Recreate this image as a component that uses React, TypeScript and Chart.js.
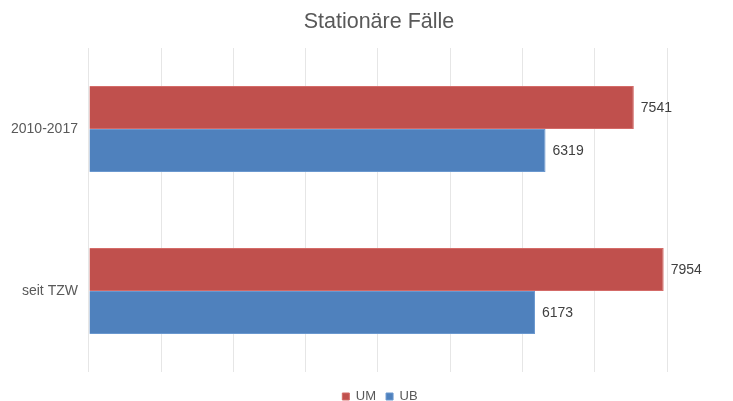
import React, { useEffect, useRef } from "react";
import { Chart, registerables } from "chart.js";

Chart.register(...registerables);

const categories = ["2010-2017", "seit TZW"];
const umValues = [7541, 7954];
const ubValues = [6319, 6173];
const seriesNames = ["UM", "UB"];
const titleText = "Stationäre Fälle";

const FONT = "'Liberation Sans', Arial, sans-serif";

const valueLabels = {
  id: "valueLabels",
  afterDatasetsDraw(chart: any) {
    const ctx = chart.ctx;
    ctx.save();
    ctx.font = `14px ${FONT}`;
    ctx.fillStyle = "#404040";
    ctx.textAlign = "left";
    ctx.textBaseline = "middle";
    chart.data.datasets.forEach((ds: any, i: number) => {
      const meta = chart.getDatasetMeta(i);
      meta.data.forEach((bar: any, j: number) => {
        ctx.fillText(String(ds.data[j]), bar.x + 7, bar.y + 1);
      });
    });
    ctx.restore();
  },
};

const centeredTitle = {
  id: "centeredTitle",
  afterDraw(chart: any) {
    const ctx = chart.ctx;
    const area = chart.chartArea;
    ctx.save();
    ctx.font = `21.5px ${FONT}`;
    ctx.fillStyle = "#595959";
    ctx.textAlign = "center";
    ctx.textBaseline = "middle";
    ctx.fillText(titleText, (area.left + area.right) / 2 + 1, 22);
    ctx.restore();
  },
};

const legendShift = {
  id: "legendShift",
  afterLayout(chart: any) {
    const lg = chart.legend;
    const area = chart.chartArea;
    if (lg && area) {
      const dy = 8;
      const dx = (area.left + area.right) / 2 + 2 - (lg.left + lg.right) / 2;
      lg.top += dy;
      lg.bottom += dy;
      lg.left += dx;
      lg.right += dx;
      if (lg.legendHitBoxes)
        lg.legendHitBoxes.forEach((b: any) => {
          b.top += dy;
          b.left += dx;
        });
    }
  },
};

export default function App() {
  const ref = useRef<HTMLCanvasElement>(null);
  useEffect(() => {
    if (!ref.current) return;
    const chart = new Chart(ref.current, {
      type: "bar",
      data: {
        labels: categories,
        datasets: [
          {
            label: seriesNames[0],
            data: umValues,
            backgroundColor: "#c0504d",
            borderColor: "#d46b68",
            borderWidth: 1,
            categoryPercentage: 0.53,
            barPercentage: 1,
          },
          {
            label: seriesNames[1],
            data: ubValues,
            backgroundColor: "#4f81bd",
            borderColor: "#6a98cf",
            borderWidth: 1,
            categoryPercentage: 0.53,
            barPercentage: 1,
          },
        ],
      },
      options: {
        indexAxis: "y",
        animation: false,
        responsive: true,
        maintainAspectRatio: false,
        layout: { padding: { left: 0, right: 66, top: 48, bottom: -4 } },
        plugins: {
          title: { display: false },
          legend: {
            position: "bottom",
            labels: {
              boxWidth: 7,
              boxHeight: 7,
              padding: 10,
              color: "#595959",
              font: { family: FONT, size: 13 },
            },
          },
          tooltip: { enabled: false },
        },
        scales: {
          x: {
            min: 0,
            max: 8000,
            ticks: { display: false, stepSize: 1000 },
            grid: { color: "#e6e6e6", drawTicks: false },
            border: { display: false },
          },
          y: {
            ticks: {
              color: "#595959",
              font: { family: FONT, size: 14 },
              padding: 11,
            },
            grid: { display: false, drawTicks: false },
            border: { display: false },
          },
        },
      },
      plugins: [valueLabels, centeredTitle, legendShift],
    });
    return () => chart.destroy();
  }, []);
  return (
    <div style={{ position: "absolute", left: 0, top: 0, width: 733, height: 401, background: "#fff" }}>
      <canvas ref={ref} />
    </div>
  );
}
